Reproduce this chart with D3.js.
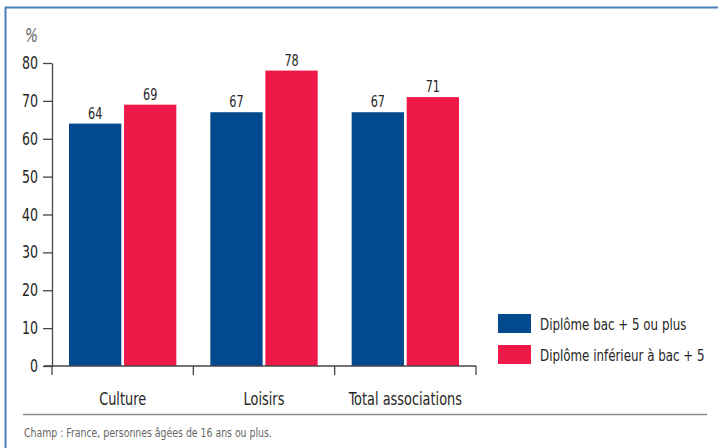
<!DOCTYPE html>
<html>
<head>
<meta charset="utf-8">
<script src="https://cdn.jsdelivr.net/npm/d3@7"></script>
<style>
  html, body { margin: 0; padding: 0; background: #fff; }
  svg { display: block; }
  text { font-family: "DejaVu Sans Condensed", "Liberation Sans Narrow", sans-serif; }
</style>
</head>
<body>
<svg id="chart" width="718" height="448"></svg>
<script>
// Share of members by type of association and diploma level (%)
const categories = ["Culture", "Loisirs", "Total associations"];
const seriesNames = ["Diplôme bac + 5 ou plus", "Diplôme inférieur à bac + 5"];
const bac5Plus = [64, 67, 67];
const belowBac5 = [69, 78, 71];
const yTicks = [0, 10, 20, 30, 40, 50, 60, 70, 80];
const colors = ["#024a8d", "#ee1849"];
const unitLabel = "%";
const footnote = "Champ : France, personnes âgées de 16 ans ou plus.";

const svg = d3.select("#chart");
const textColor = "#262626";
const NARROW = 0.8;

// Squeeze text horizontally around its own x anchor to get a condensed face
function condense(sel, k = NARROW) {
  sel.each(function () {
    const x = +d3.select(this).attr("x") || 0;
    d3.select(this).attr("transform", `translate(${x * (1 - k)},0) scale(${k},1)`);
  });
}

// Outer frame: top and left rules
svg.append("line").attr("x1", 5).attr("x2", 718).attr("y1", 7.5).attr("y2", 7.5)
  .attr("stroke", "#4b7fb9").attr("stroke-width", 2);
svg.append("line").attr("x1", 5.5).attr("x2", 5.5).attr("y1", 7).attr("y2", 448)
  .attr("stroke", "#4b7fb9").attr("stroke-width", 2);

const plot = { left: 52, right: 476, top: 63, bottom: 366 };

const x0 = d3.scaleBand().domain(categories).range([plot.left, plot.right]).paddingInner(0).paddingOuter(0);
const x1 = d3.scaleBand().domain(seriesNames).range([17, x0.bandwidth() - 17]).paddingInner(0.05);
const y = d3.scaleLinear().domain([0, 80]).range([plot.bottom, plot.top]);

const series = [bac5Plus, belowBac5];
const rows = categories.map((c, i) => ({ cat: c, values: series.map((s, j) => ({ name: seriesNames[j], value: s[i], color: colors[j] })) }));

// Bars
const groups = svg.append("g").selectAll("g").data(rows).join("g")
  .attr("transform", d => `translate(${x0(d.cat)},0)`);

groups.selectAll("rect").data(d => d.values).join("rect")
  .attr("x", d => x1(d.name))
  .attr("width", x1.bandwidth())
  .attr("y", d => y(d.value))
  .attr("height", d => y(0) - y(d.value))
  .attr("fill", d => d.color);

groups.selectAll("text.val").data(d => d.values).join("text")
  .attr("class", "val")
  .attr("x", d => x1(d.name) + x1.bandwidth() / 2)
  .attr("y", d => y(d.value) - 5)
  .attr("text-anchor", "middle")
  .attr("font-size", 16)
  .attr("fill", textColor)
  .text(d => d.value)
  .call(condense, 0.78);

// Y axis
const yAxis = svg.append("g").attr("transform", `translate(${plot.left},0)`)
  .call(d3.axisLeft(y).tickValues(yTicks).tickSize(9).tickPadding(5).tickSizeOuter(0));
yAxis.select(".domain").attr("stroke", "#444").attr("stroke-width", 1.3);
yAxis.selectAll(".tick line").attr("stroke", "#444").attr("stroke-width", 1.3);
yAxis.selectAll(".tick text").attr("font-size", 17.5).attr("fill", textColor)
  .attr("font-family", '"DejaVu Sans Condensed", sans-serif')
  .call(condense);

// X axis with separators between categories
const xAxisG = svg.append("g").attr("transform", `translate(0,${plot.bottom})`);
xAxisG.append("line").attr("x1", plot.left - 8).attr("x2", plot.right)
  .attr("stroke", "#444").attr("stroke-width", 1.3);
const seps = categories.map(c => x0(c)).concat([x0(categories[categories.length - 1]) + x0.bandwidth()]);
xAxisG.selectAll("line.sep").data(seps).join("line").attr("class", "sep")
  .attr("x1", d => d).attr("x2", d => d).attr("y1", 0).attr("y2", 9)
  .attr("stroke", "#444").attr("stroke-width", 1.3);
xAxisG.selectAll("text").data(categories).join("text")
  .attr("x", d => x0(d) + x0.bandwidth() / 2)
  .attr("y", 39)
  .attr("text-anchor", "middle")
  .attr("font-size", 17.5)
  .attr("fill", textColor)
  .text(d => d)
  .call(condense, 0.82);

// Unit label
svg.append("text").attr("x", 25).attr("y", 42).attr("font-size", 19)
  .attr("font-style", "italic").attr("fill", "#666").text(unitLabel)
  .call(condense, 0.8);

// Legend
const legend = svg.append("g").attr("transform", "translate(498,314)");
const li = legend.selectAll("g").data(seriesNames).join("g")
  .attr("transform", (d, i) => `translate(0,${i * 31})`);
li.append("rect").attr("width", 33).attr("height", 19).attr("fill", (d, i) => colors[i]);
li.append("text").attr("x", 42).attr("y", 16).attr("font-size", 16.5).attr("fill", textColor).text(d => d)
  .call(condense, 0.8);

// Footnote rule and text
svg.append("line").attr("x1", 23).attr("x2", 707).attr("y1", 414.5).attr("y2", 414.5)
  .attr("stroke", "#8a8a8a").attr("stroke-width", 1.5);
svg.append("text").attr("x", 24).attr("y", 437).attr("font-size", 13)
  .attr("fill", "#666").text(footnote)
  .call(condense, 0.8);
</script>
</body>
</html>
